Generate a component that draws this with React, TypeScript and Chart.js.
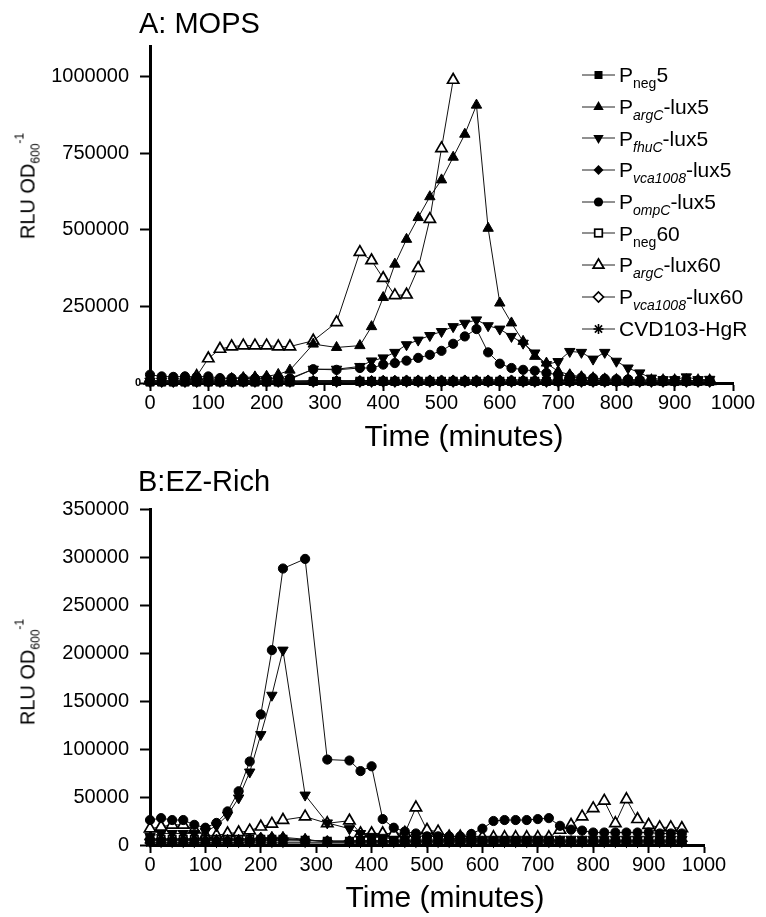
import React, { useEffect, useRef } from 'react';
import { Chart, registerables } from 'chart.js';
Chart.register(...registerables);

const FONT = '"Liberation Sans", Arial, Helvetica, sans-serif';

// sampling times (minutes)
const times = [0, 20, 40, 60, 80, 100, 120, 140, 160, 180, 200, 220, 240, 280, 320, 360, 380, 400, 420, 440, 460, 480, 500, 520, 540, 560, 580, 600, 620, 640, 660, 680, 700, 720, 740, 760, 780, 800, 820, 840, 860, 880, 900, 920, 940, 960];

const xTicks = [0, 100, 200, 300, 400, 500, 600, 700, 800, 900, 1000];
const yTicksMops = [0, 250000, 500000, 750000, 1000000];
const yTicksEz = [0, 50000, 100000, 150000, 200000, 250000, 300000, 350000];

const seriesNames = ['Pneg5', 'PargC-lux5', 'PfhuC-lux5', 'Pvca1008-lux5', 'PompC-lux5', 'Pneg60', 'PargC-lux60', 'Pvca1008-lux60', 'CVD103-HgR'];

// ---- A: MOPS ----
const mopsNeg5 = [3000, 3000, 3000, 3000, 3000, 3000, 3000, 3000, 3000, 3000, 3000, 3000, 3000, 6000, 6000,
  5000, 5000, 5000, 5000, 5000, 5000, 5000, 5000, 5000, 5000, 5000, 5000, 5000, 5000, 5000, 5000, 5000, 5000, 5000, 5000, 5000, 5000, 5000, 5000, 5000, 5000, 5000, 5000, 5000, 5000, 5000];
const mopsArgC5 = [8000, 8000, 8000, 8000, 10000, 10000, 12000, 15000, 18000, 20000, 22000, 28000, 42000, 127000, 116000,
  122000, 184000, 279000, 388000, 469000, 540000, 608000, 663000, 737000, 812000, 907000, 505000, 261000, 196000, 136000, 87000, 65000, 38000, 27000, 20000, 15000, 12000, 10000, 8000, 8000, 7000, 6000, 6000, 5000, 5000, 5000];
const mopsFhuC5 = [6000, 6000, 6000, 6000, 6000, 6000, 6000, 6000, 7000, 8000, 9000, 10000, 12000, 45000, 45000,
  54000, 72000, 82000, 100000, 125000, 140000, 155000, 168000, 184000, 195000, 206000, 187000, 176000, 152000, 130000, 98000, 60000, 70000, 103000, 100000, 78000, 100000, 71000, 49000, 33000, 16000, 11000, 11000, 20000, 11000, 12000];
const mopsVca5 = [7000, 7000, 7000, 7000, 7000, 7000, 7000, 7000, 7000, 7000, 7000, 7000, 7000, 8000, 8000,
  8000, 8000, 9000, 9000, 10000, 10000, 10000, 10000, 10000, 10000, 10000, 10000, 10000, 10000, 10000, 10000, 10000, 9000, 9000, 8000, 8000, 8000, 7000, 7000, 7000, 6000, 6000, 6000, 6000, 6000, 6000];
const mopsOmpC5 = [27000, 21500, 20000, 21500, 20000, 21500, 16000, 16000, 15000, 15000, 15000, 15000, 15000, 45000, 43000,
  49000, 49000, 60000, 65000, 73000, 82000, 92000, 105000, 128000, 152000, 176000, 100000, 63000, 49000, 43000, 40000, 33000, 27000, 22000, 18000, 16000, 14000, 12000, 12000, 10000, 10000, 9000, 9000, 8000, 8000, 8000];
const mopsNeg60 = [4000, 4000, 4000, 4000, 4000, 4000, 4000, 4000, 4000, 4000, 4000, 4000, 4000, 5000, 5000,
  6000, 6000, 6000, 6000, 6000, 6000, 6000, 6000, 6000, 6000, 6000, 6000, 6000, 6000, 6000, 6000, 6000, 6000, 6000, 6000, 6000, 6000, 6000, 6000, 6000, 6000, 6000, 6000, 6000, 6000, 6000];
const mopsArgC60 = [8000, 8000, 8000, 12000, 22000, 80000, 111000, 119000, 122000, 122000, 122000, 119000, 119000, 138000, 198000,
  427000, 400000, 342000, 286000, 288000, 375000, 535000, 766000, 989000, null, null, null, null, null, null, null, null, null, 20000, 15000, 12000, 8000, 7000, 6000, 6000, 6000, 6000, 6000, 6000, 6000, 6000];
const mopsVca60 = [5000, 5000, 5000, 5000, 5000, 5000, 5000, 5000, 5000, 5000, 5000, 5000, 5000, 5000, 5000,
  5000, 5000, 5000, 5000, 5000, 5000, 5000, 5000, 5000, 5000, 5000, 5000, 5000, 5000, 5000, 5000, 5000, 5000, 5000, 5000, 5000, 5000, 5000, 5000, 5000, 5000, 5000, 5000, 5000, 5000, 5000];
const mopsCvd = [2000, 2000, 2000, 2000, 2000, 2000, 2000, 2000, 2000, 2000, 2000, 2000, 2000, 2000, 2000,
  2000, 2000, 2000, 2000, 2000, 2000, 2000, 2000, 2000, 2000, 2000, 2000, 2000, 2000, 2000, 2000, 2000, 2000, 2000, 2000, 2000, 2000, 2000, 2000, 2000, 2000, 2000, 2000, 2000, 2000, 2000];

// ---- B: EZ-Rich ----
const ezNeg5 = [3000, 3000, 3000, 3000, 3000, 3000, 3000, 3000, 3000, 3000, 3000, 3000, 3000, 3000, 3000,
  3000, 3000, 3000, 3000, 3000, 3000, 3000, 3000, 3000, 3000, 3000, 3000, 3000, 3000, 3000, 3000, 3000, 3000, 3000, 3000, 3000, 3000, 3000, 3000, 3000, 3000, 3000, 3000, 3000, 3000, 3000];
const ezArgC5 = [5000, 5000, 5000, 5000, 5000, 5000, 5000, 5000, 5000, 6000, 7000, 8000, 8000, 6000, 3000,
  3000, 3000, 3000, 3000, 3000, 3000, 3000, 3000, 3000, 3000, 3000, 3000, 3000, 3000, 3000, 3000, 3000, 3000, 3000, 3000, 3000, 3000, 3000, 3000, 3000, 3000, 3000, 3000, 3000, 3000, 3000];
const ezFhuC5 = [9000, 12000, 12000, 12000, 12000, 14000, 20000, 31000, 49000, 76000, 115000, 156000, 203000, 52000, 23000,
  17000, 12000, 9000, 8000, 6000, 6000, 6000, 6000, 6000, 6000, 6000, 6000, 6000, 6000, 6000, 6000, 6000, 6000, 6000, 6000, 6000, 6000, 6000, 6000, 6000, 6000, 6000, 6000, 6000, 6000, 6000];
const ezVca5 = [5000, 5000, 5000, 5000, 5000, 5000, 5000, 5000, 5000, 5000, 5000, 5000, 5000, 5000, 4000,
  4000, 4000, 4000, 4000, 4000, 4000, 4000, 4000, 4000, 4000, 4000, 4000, 4000, 4000, 4000, 4000, 4000, 4000, 4000, 4000, 4000, 4000, 4000, 4000, 4000, 4000, 4000, 4000, 4000, 4000, 4000];
const ezOmpC5 = [26000, 28000, 26000, 26000, 21000, 18000, 23000, 35000, 56000, 87000, 136000, 203000, 288000, 298000, 89000,
  88000, 77000, 82000, 27000, 18000, 14000, 12000, 9000, 9000, 9000, 9000, 11500, 17000, 25000, 26000, 26000, 26000, 27000, 28000, 20000, 16000, 15000, 13000, 13000, 13000, 13000, 13000, 13000, 12000, 12000, 12000];
const ezNeg60 = [6000, 6000, 6000, 6000, 6000, 6000, 6000, 6000, 6000, 6000, 6000, 6000, 6000, 5000, 4000,
  4000, 4000, 4000, 4000, 4000, 4000, 4000, 4000, 4000, 4000, 4000, 4000, 4000, 4000, 4000, 4000, 4000, 4000, 4000, 4000, 4000, 4000, 4000, 4000, 4000, 4000, 4000, 4000, 4000, 4000, 4000];
const ezArgC60 = [17000, 19000, 21000, 21000, 16000, 10000, 10000, 12000, 13000, 15000, 19000, 22000, 26000, 29500, 22600,
  25300, 12000, 12000, 12000, 12000, 12500, 39000, 15600, 13900, 8700, 8700, 8700, 8000, 8000, 8000, 8000, 8000, 8000, 8000, 15600, 20800, 29500, 38200, 45900, 22600, 47600, 26800, 20800, 18400, 18400, 17400];
const ezVca60 = [6000, 6000, 6000, 6000, 6000, 6000, 6000, 6000, 6000, 6000, 7000, 7000, 7000, 5000, 4000,
  4000, 4000, 4000, 4000, 4000, 4000, 4000, 4000, 4000, 4000, 4000, 4000, 4000, 4000, 4000, 4000, 4000, 4000, 4000, 4000, 4000, 4000, 4000, 4000, 4000, 4000, 4000, 4000, 4000, 4000, 4000];
const ezCvd = [2000, 2000, 2000, 2000, 2000, 2000, 2000, 2000, 2000, 2000, 2000, 2000, 2000, 2000, 2000,
  2000, 2000, 2000, 2000, 2000, 2000, 2000, 2000, 2000, 2000, 2000, 2000, 2000, 2000, 2000, 2000, 2000, 2000, 2000, 2000, 2000, 2000, 2000, 2000, 2000, 2000, 2000, 2000, 2000, 2000, 2000];

const mopsData = [mopsNeg5, mopsArgC5, mopsFhuC5, mopsVca5, mopsOmpC5, mopsNeg60, mopsArgC60, mopsVca60, mopsCvd];
const ezData = [ezNeg5, ezArgC5, ezFhuC5, ezVca5, ezOmpC5, ezNeg60, ezArgC60, ezVca60, ezCvd];

// marker styles per series (same order as seriesNames)
const markerStyles = [
  { style: 'rect', rot: 0, fill: true, r: 5.5 },
  { style: 'triangle', rot: 0, fill: true, r: 6 },
  { style: 'triangle', rot: 180, fill: true, r: 6 },
  { style: 'rectRot', rot: 0, fill: true, r: 5 },
  { style: 'circle', rot: 0, fill: true, r: 4.6 },
  { style: 'rect', rot: 0, fill: false, r: 5.2 },
  { style: 'triangle', rot: 0, fill: false, r: 6.5 },
  { style: 'rectRot', rot: 0, fill: false, r: 5 },
  { style: 'star', rot: 0, fill: true, r: 5 },
];

type Cfg = {
  H: number; padTop: number; padRight: number; areaBottom: number;
  yMax: number; yTicks: number[]; hideZero: boolean;
};

function makeChart(canvas: HTMLCanvasElement, data: (number | null)[][], cfg: Cfg) {
  const datasets = data.map((arr, i) => {
    const m = markerStyles[i];
    return {
      label: seriesNames[i],
      data: times.map((t, k) => ({ x: t, y: arr[k] })),
      borderColor: '#111',
      borderWidth: 1,
      pointStyle: m.style as any,
      pointRotation: m.rot,
      pointRadius: m.r,
      pointBackgroundColor: m.fill ? '#000' : '#fff',
      pointBorderColor: '#000',
      pointBorderWidth: m.fill ? 1 : 1.7,
      showLine: true,
      spanGaps: false,
      clip: false as any,
      tension: 0,
    };
  });
  return new Chart(canvas, {
    type: 'line',
    data: { datasets },
    options: {
      animation: false,
      responsive: false,
      events: [],
      layout: { padding: { left: 0, right: cfg.padRight, top: cfg.padTop, bottom: 0 } },
      plugins: { legend: { display: false }, tooltip: { enabled: false }, title: { display: false } },
      scales: {
        x: {
          type: 'linear', min: 0, max: 1000,
          afterBuildTicks: (scale: any) => { scale.ticks = xTicks.map((v) => ({ value: v })); },
          ticks: {
            color: '#000', padding: 0, maxRotation: 0, autoSkip: false,
            font: { family: FONT, size: 20 },
            callback: (v: any) => String(v),
          },
          grid: { display: true, drawOnChartArea: false, drawTicks: true, tickLength: 8, tickWidth: 2, tickColor: '#000' },
          border: { display: true, color: '#000', width: 3 },
          title: { display: false },
          afterFit: (scale: any) => { scale.height = cfg.H - cfg.areaBottom; },
        },
        y: {
          type: 'linear', min: 0, max: cfg.yMax,
          afterBuildTicks: (scale: any) => { scale.ticks = cfg.yTicks.map((v) => ({ value: v })); },
          ticks: {
            color: '#000', padding: 11, autoSkip: false,
            font: { family: FONT, size: 20 },
            callback: (v: any) => (cfg.hideZero && v === 0 ? '' : String(v)),
          },
          grid: { display: true, drawOnChartArea: false, drawTicks: true, tickLength: 10, tickWidth: 2, tickColor: '#000' },
          border: { display: true, color: '#000', width: 3 },
          afterFit: (scale: any) => { scale.width = 150; },
        },
      },
    } as any,
  });
}

const legendEntries = [
  { sub: 'neg', it: false, tail: '5', mk: 'sq' },
  { sub: 'argC', it: true, tail: '-lux5', mk: 'tri' },
  { sub: 'fhuC', it: true, tail: '-lux5', mk: 'triDown' },
  { sub: 'vca1008', it: true, tail: '-lux5', mk: 'dia' },
  { sub: 'ompC', it: true, tail: '-lux5', mk: 'circ' },
  { sub: 'neg', it: false, tail: '60', mk: 'osq' },
  { sub: 'argC', it: true, tail: '-lux60', mk: 'otri' },
  { sub: 'vca1008', it: true, tail: '-lux60', mk: 'odia' },
  { sub: '', it: false, tail: 'CVD103-HgR', mk: 'star' },
];

function LegendMarker({ kind }: { kind: string }) {
  const cx = 16.5, cy = 10;
  let shape: any = null;
  if (kind === 'sq') shape = <rect x={cx - 4} y={cy - 4} width={8} height={8} fill="#000" />;
  if (kind === 'osq') shape = <rect x={cx - 3.8} y={cy - 3.8} width={7.6} height={7.6} fill="#fff" stroke="#000" strokeWidth={1.7} />;
  if (kind === 'tri') shape = <polygon points={`${cx},${cy - 6} ${cx + 5.2},${cy + 3} ${cx - 5.2},${cy + 3}`} fill="#000" />;
  if (kind === 'otri') shape = <polygon points={`${cx},${cy - 6} ${cx + 5.4},${cy + 3.2} ${cx - 5.4},${cy + 3.2}`} fill="#fff" stroke="#000" strokeWidth={1.7} />;
  if (kind === 'triDown') shape = <polygon points={`${cx},${cy + 6} ${cx + 5.2},${cy - 3} ${cx - 5.2},${cy - 3}`} fill="#000" />;
  if (kind === 'dia') shape = <polygon points={`${cx},${cy - 5} ${cx + 5},${cy} ${cx},${cy + 5} ${cx - 5},${cy}`} fill="#000" />;
  if (kind === 'odia') shape = <polygon points={`${cx},${cy - 5} ${cx + 5},${cy} ${cx},${cy + 5} ${cx - 5},${cy}`} fill="#fff" stroke="#000" strokeWidth={1.7} />;
  if (kind === 'circ') shape = <circle cx={cx} cy={cy} r={4.6} fill="#000" />;
  if (kind === 'star') shape = (
    <g stroke="#000" strokeWidth={1.6}>
      <line x1={cx - 5} y1={cy} x2={cx + 5} y2={cy} />
      <line x1={cx} y1={cy - 5} x2={cx} y2={cy + 5} />
      <line x1={cx - 3.6} y1={cy - 3.6} x2={cx + 3.6} y2={cy + 3.6} />
      <line x1={cx - 3.6} y1={cy + 3.6} x2={cx + 3.6} y2={cy - 3.6} />
    </g>
  );
  return (
    <svg width={34} height={20} style={{ position: 'absolute', left: 0, top: 5.85, overflow: 'visible' }}>
      <line x1={0} y1={cy} x2={33} y2={cy} stroke="#222" strokeWidth={1} />
      {shape}
    </svg>
  );
}

function YTitle({ cx, cy }: { cx: number; cy: number }) {
  return (
    <div style={{
      position: 'absolute', left: cx, top: cy, transform: 'translate(-50%, -50%) rotate(-90deg)',
      whiteSpace: 'nowrap', fontSize: 20, lineHeight: '20px', fontFamily: FONT, color: '#000',
    }}>
      RLU OD<span style={{ fontSize: 12, position: 'relative', top: 5 }}>600</span>
      <span style={{ fontSize: 12, position: 'relative', top: -11 }}>-1</span>
    </div>
  );
}

function XTitle({ cx, top }: { cx: number; top: number }) {
  return (
    <div style={{
      position: 'absolute', left: cx, top, transform: 'translateX(-50%)',
      whiteSpace: 'nowrap', fontSize: 30, lineHeight: '30px', fontFamily: FONT, color: '#000',
    }}>Time (minutes)</div>
  );
}

export default function App() {
  const refA = useRef<HTMLCanvasElement>(null);
  const refB = useRef<HTMLCanvasElement>(null);
  useEffect(() => {
    const a = makeChart(refA.current!, mopsData, {
      H: 460, padTop: 46, padRight: 33, areaBottom: 383, yMax: 1100000, yTicks: yTicksMops, hideZero: true,
    });
    const b = makeChart(refB.current!, ezData, {
      H: 457, padTop: 49, padRight: 62, areaBottom: 385, yMax: 350000, yTicks: yTicksEz, hideZero: false,
    });
    return () => { a.destroy(); b.destroy(); };
  }, []);

  const rowH = 31.7;
  return (
    <div style={{ position: 'absolute', left: 0, top: 0, width: 766, height: 917, background: '#fff', fontFamily: FONT, color: '#000', overflow: 'hidden' }}>
      <canvas ref={refA} width={766} height={460} style={{ position: 'absolute', left: 0, top: 0, display: 'block' }} />
      <canvas ref={refB} width={766} height={457} style={{ position: 'absolute', left: 0, top: 460, display: 'block' }} />
      <div style={{ position: 'absolute', left: 139, top: 8.5, fontSize: 29, lineHeight: '29px', whiteSpace: 'nowrap' }}>A: MOPS</div>
      <div style={{ position: 'absolute', left: 138, top: 466.5, fontSize: 29, lineHeight: '29px', whiteSpace: 'nowrap' }}>B:EZ-Rich</div>
      <div style={{ position: 'absolute', left: 135, top: 377, fontSize: 11, lineHeight: '11px', fontWeight: 'bold' }}>0</div>
      <YTitle cx={29} cy={186} />
      <YTitle cx={29} cy={672} />
      <XTitle cx={464} top={420.6} />
      <XTitle cx={445} top={882} />
      <div style={{ position: 'absolute', left: 582, top: 0 }}>
        {legendEntries.map((e, i) => (
          <div key={i} style={{ position: 'absolute', left: 0, top: 75 + i * rowH - rowH / 2, height: rowH, width: 200 }}>
            <LegendMarker kind={e.mk} />
            <span style={{ position: 'absolute', left: 37, top: 0, fontSize: 21, lineHeight: `${rowH}px`, whiteSpace: 'nowrap' }}>
              {e.sub ? 'P' : ''}
              {e.sub ? <span style={{ fontSize: 14, fontStyle: e.it ? 'italic' : 'normal', position: 'relative', top: 6 }}>{e.sub}</span> : null}
              {e.tail}
            </span>
          </div>
        ))}
      </div>
    </div>
  );
}
